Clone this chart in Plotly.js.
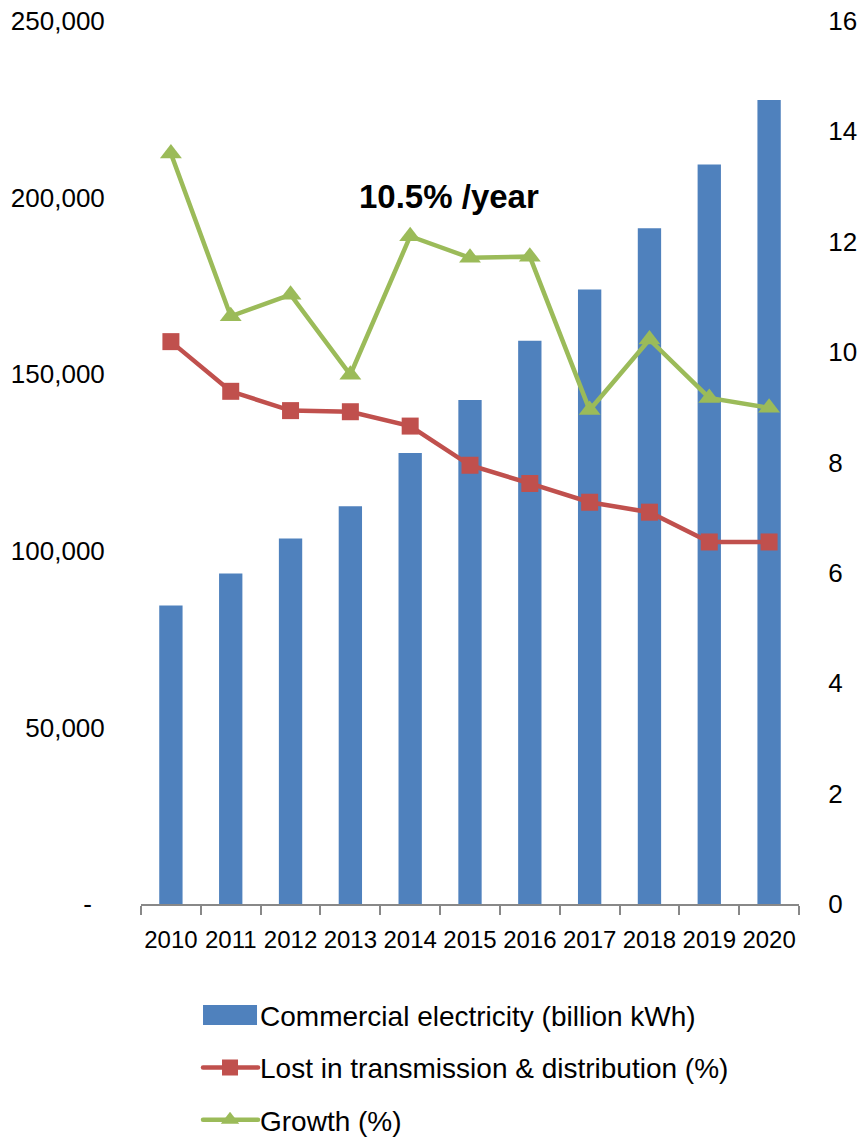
<!DOCTYPE html>
<html>
<head>
<meta charset="utf-8">
<script src="https://cdn.plot.ly/plotly-3.0.1.min.js"></script>
<style>html,body{margin:0;padding:0;background:#fff;}#chart{width:864px;height:1137px;}</style>
</head>
<body>
<div id="chart"></div>
<script>
const years = ['2010','2011','2012','2013','2014','2015','2016','2017','2018','2019','2020'];
const commercial = [84500, 93600, 103500, 112600, 127700, 142700, 159500, 174000, 191300, 209400, 227600];
const lost = [10.19, 9.29, 8.94, 8.92, 8.66, 7.95, 7.62, 7.28, 7.10, 6.56, 6.56];
const growth = [13.6, 10.65, 11.04, 9.59, 12.1, 11.71, 11.73, 8.95, 10.23, 9.17, 8.99];
const leftTickVals = [0, 50000, 100000, 150000, 200000, 250000];
const leftTickText = ['-\u2002', '50,000', '100,000', '150,000', '200,000', '250,000'];
const annotationText = '10.5% /year';

const FONT = '"Liberation Sans", Arial, sans-serif';

const traces = [
  {type:'bar', x:years, y:commercial, name:'Commercial electricity (billion kWh)',
   marker:{color:'#4F81BD'}, width:0.39, legendgroup:'a', yaxis:'y'},
  {type:'scatter', mode:'lines+markers', x:years, y:lost, name:'Lost in transmission & distribution (%)',
   line:{color:'#C0504D', width:4.5}, marker:{symbol:'square', size:17, color:'#C0504D'},
   legendgroup:'b', yaxis:'y2'},
  {type:'scatter', mode:'lines+markers', x:years, y:growth, name:'Growth (%)',
   line:{color:'#9BBB59', width:4.5}, marker:{symbol:'triangle-up', size:19, color:'#9BBB59'},
   legendgroup:'c', yaxis:'y2'}
];

const layout = {
  width:864, height:1137,
  margin:{l:141, r:65, t:21, b:233, autoexpand:false},
  paper_bgcolor:'#fff', plot_bgcolor:'#fff',
  font:{family:FONT, size:26, color:'#000'},
  showlegend:true,
  xaxis:{type:'category', range:[-0.5, 10.5], showgrid:false, showline:true, linecolor:'#888', linewidth:2,
         ticks:'outside', tickson:'boundaries', ticklen:9, tickcolor:'#888', tickwidth:2,
         tickangle:0, automargin:false, ticklabelstandoff:13, tickfont:{family:FONT, size:24}},
  yaxis:{range:[0,250000], tickvals:leftTickVals, ticktext:leftTickText, showgrid:false,
         zeroline:false, showline:false, ticks:'outside', ticklen:30, tickcolor:'rgba(0,0,0,0)',
         automargin:false, tickfont:{family:FONT, size:26}},
  yaxis2:{range:[0,16], overlaying:'y', side:'right', dtick:2, showgrid:false,
          zeroline:false, showline:false, ticks:'outside', ticklen:23, tickcolor:'rgba(0,0,0,0)',
          automargin:false, tickfont:{family:FONT, size:26}},
  legend:{orientation:'v', xref:'container', yref:'container', x:0.2315, y:0.129,
          xanchor:'left', yanchor:'top', traceorder:'grouped', tracegroupgap:13,
          font:{family:FONT, size:28}, itemwidth:50},
  annotations:[{text:'<b>'+annotationText+'</b>', xref:'paper', yref:'paper',
                x:0.468, y:0.824, showarrow:false, font:{family:FONT, size:33, color:'#000'}}]
};

Plotly.newPlot('chart', traces, layout, {displayModeBar:false, staticPlot:true}).then(function(gd){
  const items = gd.querySelectorAll('.legend .traces');
  items.forEach(function(g, i){
    g.querySelectorAll('.legendlines path').forEach(function(p){
      p.setAttribute('d', 'M3,0h55');
      p.style.strokeLinecap = 'round';
    });
    g.querySelectorAll('.legendpoints path').forEach(function(p){
      if (i === 0) {
        p.setAttribute('d', 'M3,-10h54v20h-54z');
        p.removeAttribute('transform');
      } else {
        p.setAttribute('transform', 'translate(30,0)');
      }
    });
  });
});
</script>
</body>
</html>
